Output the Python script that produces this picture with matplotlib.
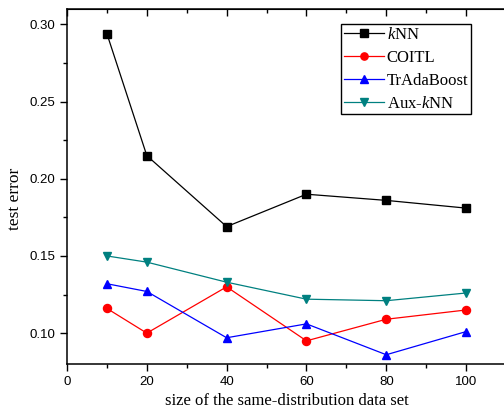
import matplotlib
matplotlib.use("Agg")
import matplotlib.pyplot as plt
from matplotlib.ticker import MultipleLocator

plt.rcParams["mathtext.fontset"] = "custom"
plt.rcParams["mathtext.rm"] = "Liberation Serif"
plt.rcParams["mathtext.it"] = "Liberation Serif:italic"

sizes = [10, 20, 40, 60, 80, 100]
knn = [0.294, 0.215, 0.169, 0.190, 0.186, 0.181]
coitl = [0.116, 0.100, 0.130, 0.095, 0.109, 0.115]
tradaboost = [0.132, 0.127, 0.097, 0.106, 0.086, 0.101]
aux_knn = [0.150, 0.146, 0.133, 0.122, 0.121, 0.126]

series = [
    (knn, "$k$NN", "black", "s"),
    (coitl, "COITL", "red", "o"),
    (tradaboost, "TrAdaBoost", "blue", "^"),
    (aux_knn, "Aux-$k$NN", "#008080", "v"),
]

fig = plt.figure(figsize=(5.04, 4.2), dpi=100)
ax = fig.add_axes([67 / 504, 56 / 420, 439 / 504, 355 / 420])

for values, label, color, marker in series:
    ax.plot(sizes, values, color=color, marker=marker, markersize=5.8,
            linewidth=0.9, label=label)

ax.set_xlim(0, 110)
ax.set_ylim(0.08, 0.31)
ax.xaxis.set_major_locator(MultipleLocator(20))
ax.xaxis.set_minor_locator(MultipleLocator(10))
ax.yaxis.set_major_locator(MultipleLocator(0.05))
ax.yaxis.set_minor_locator(MultipleLocator(0.025))
ax.yaxis.set_major_formatter(matplotlib.ticker.FormatStrFormatter("%.2f"))

ax.tick_params(which="both", direction="out", top=False, right=False,
               labelsize=9.5, width=1)
ax.tick_params(which="major", length=5)
ax.tick_params(which="minor", length=3)
for lbl in ax.get_xticklabels() + ax.get_yticklabels():
    lbl.set_family("Liberation Sans")

for s in ax.spines.values():
    s.set_linewidth(1.1)

# inward ticks on the top axis, like the original plotting software
sec = ax.secondary_xaxis("top")
sec.xaxis.set_major_locator(MultipleLocator(20))
sec.xaxis.set_minor_locator(MultipleLocator(10))
sec.tick_params(which="both", direction="in", labeltop=False, width=1)
sec.tick_params(which="major", length=5)
sec.tick_params(which="minor", length=3)

ax.set_xlabel("size of the same-distribution data set", fontsize=12,
              family="Liberation Serif", labelpad=4)
ax.set_ylabel("test error", fontsize=12.5, family="Liberation Serif")
ax.yaxis.set_label_coords(-44 / 439, 0.465)

ax.legend(loc="upper left", bbox_to_anchor=(274 / 439, 0.957),
          prop={"family": "Liberation Serif", "size": 12},
          frameon=True, fancybox=False, edgecolor="black", framealpha=1,
          handlelength=2.4, handletextpad=0.2, borderpad=0.15,
          labelspacing=0.42, borderaxespad=0, markerscale=0.9)

fig.savefig("out.png", dpi=100)
